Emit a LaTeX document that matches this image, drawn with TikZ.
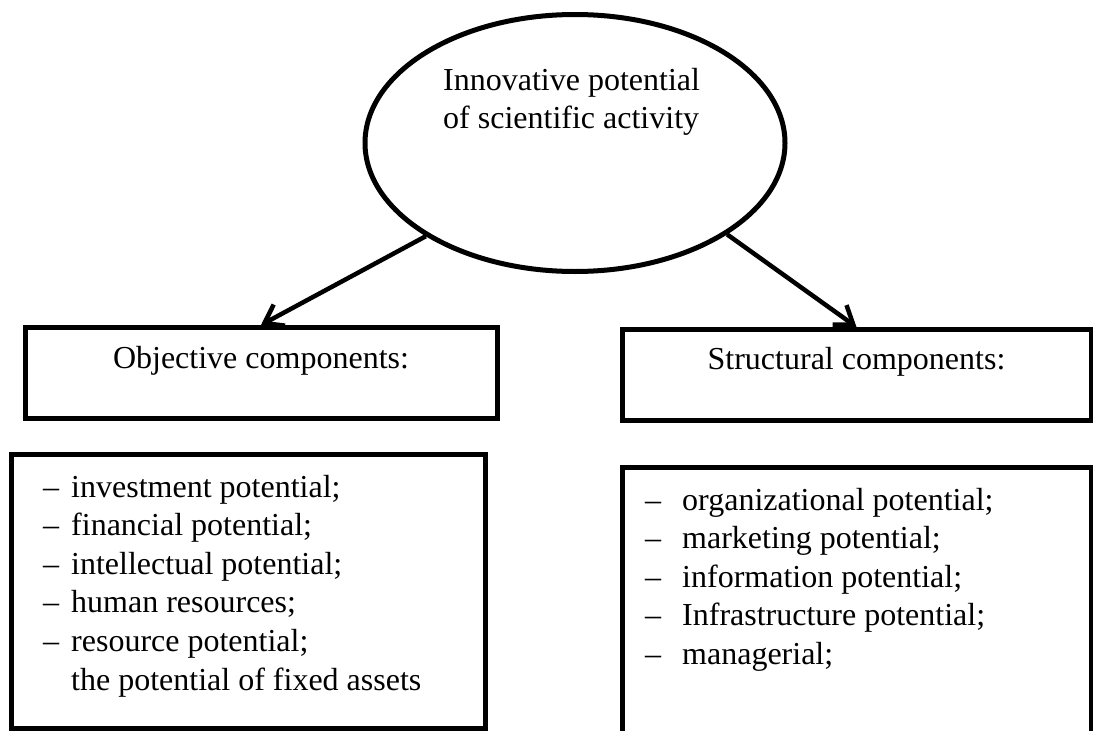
\documentclass[tikz,border=0pt]{standalone}
\usepackage{fontspec}
\setmainfont{Liberation Serif}
\usetikzlibrary{shapes.geometric,arrows.meta}
\tikzset{
OVAL/.style={draw=black,ellipse,line width=5pt,inner sep=0pt,minimum width=420pt,minimum height=257pt},
BOX/.style={draw=black,rectangle,line width=5pt,inner sep=0pt,text height=22pt,text depth=32pt},
ARROW/.style={draw=black,line width=4.5pt,-{Straight Barb[length=17pt,width=24pt]}},
TXT/.style={inner sep=0pt,font=\fontsize{32}{38.6}\selectfont},
}

\begin{document}
\begin{tikzpicture}
[x=1pt,y=-1pt]
	\useasboundingbox (0,0) rectangle (1093,731);
	\clip (0,0) rectangle (1093,731);
	%Top
	\node[OVAL] (potential) at (575,143) {};
	\node[TXT,anchor=base west] (potentialtext) at (443,90)
		{\begin{tabular}[t]{@{}l@{}}Innovative potential\\of scientific activity\end{tabular}};
	%Components
	\node[BOX,TXT,minimum width=472pt,minimum height=91pt] (objective) at (261,373) {Objective components:};
	\node[BOX,TXT,minimum width=469pt,minimum height=90.5pt] (structural) at (856.5,374.75) {Structural components:};
	\path[ARROW] (potential.212) -- (objective.north);
	\path[ARROW] (potential.-31) -- (structural.north);
	%Lists
	\node[BOX,minimum width=473.5pt,minimum height=273.5pt] (objlist) at (248.25,591.25) {};
	\node[BOX,minimum width=469pt,minimum height=332.5pt] (strlist) at (856.5,633.75) {};
	\node[TXT,anchor=base west] (objitems) at (43,497)
		{\begin{tabular}[t]{@{}l@{\hspace{12pt}}l@{}}
		-- & investment potential;\\
		-- & financial potential;\\
		-- & intellectual potential;\\
		-- & human resources;\\
		-- & resource potential;\\
		   & the potential of fixed assets
		\end{tabular}};
	\node[TXT,anchor=base west] (stritems) at (645,510)
		{\begin{tabular}[t]{@{}l@{\hspace{21pt}}l@{}}
		-- & organizational potential;\\
		-- & marketing potential;\\
		-- & information potential;\\
		-- & Infrastructure potential;\\
		-- & managerial;
		\end{tabular}};
\end{tikzpicture}
\end{document}
